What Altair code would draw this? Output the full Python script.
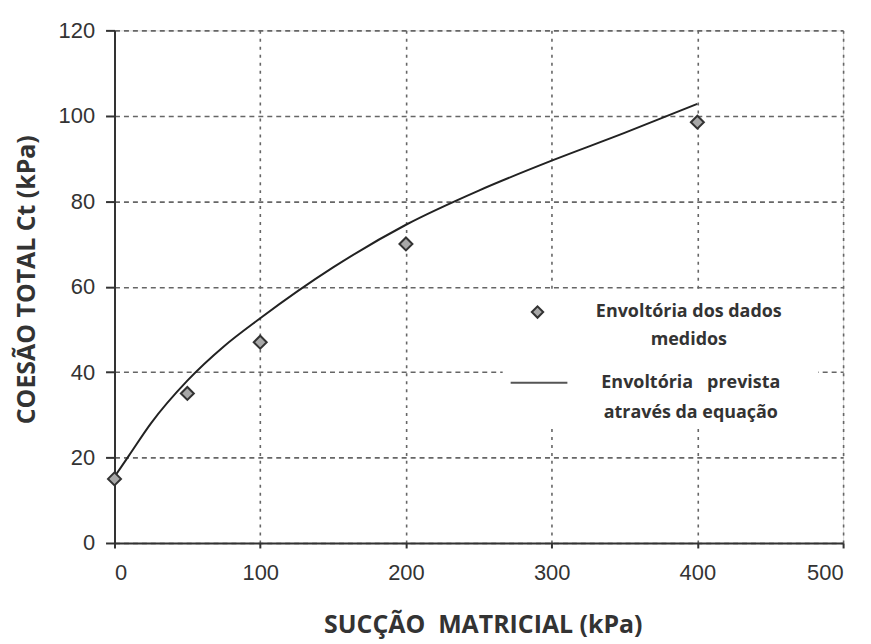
import altair as alt
import pandas as pd

# Measured data
succao_medida = [0, 50, 100, 200, 400]
coesao_medida = [15, 35, 47, 70, 98.5]

# Predicted envelope
succao_prevista = [0, 10, 25, 50, 75, 100, 150, 200, 250, 300, 350, 400]
coesao_prevista = [15.5, 20.5, 28, 38, 46, 52.6, 64.5, 74.5, 82.5, 89.5, 96, 102.8]

legend_labels = ["Envoltória dos dados\nmedidos", "Envoltória\u00a0\u00a0 prevista\natravés da equação"]

df_med = pd.DataFrame({"s": succao_medida, "c": coesao_medida})
df_prev = pd.DataFrame({"s": succao_prevista, "c": coesao_prevista})

W, H = 732, 515

xscale = alt.Scale(domain=[0, 500], nice=False, zero=True)
yscale = alt.Scale(domain=[0, 120], nice=False, zero=True)

xaxis = alt.Axis(title="SUCÇÃO\u00a0\u00a0MATRICIAL (kPa)", values=[0, 100, 200, 300, 400, 500],
                 grid=True, gridDash=[3, 5], gridColor="#666", gridWidth=1.6,
                 domainColor="#333", domainWidth=2, tickColor="#333", tickWidth=2, tickSize=5,
                 labelFont="Liberation Sans", labelFontSize=22, labelColor="#333", labelPadding=15,
                 titleFont="Open Sans", titleFontWeight="bold", titleFontSize=25, titleColor="#333",
                 titlePadding=29, titleX=370)
yaxis = alt.Axis(title="COESÃO TOTAL Ct (kPa)", values=[0, 20, 40, 60, 80, 100, 120],
                 grid=True, gridDash=[5, 4], gridColor="#666", gridWidth=1.6,
                 domainColor="#333", domainWidth=2, tickColor="#333", tickWidth=2, tickSize=9,
                 labelFont="Liberation Sans", labelFontSize=22, labelColor="#333", labelPadding=11,
                 titleFont="Open Sans", titleFontWeight="bold", titleFontSize=25, titleColor="#333",
                 titlePadding=19, titleY=250)

line = alt.Chart(df_prev).mark_line(color="#222", strokeWidth=2, interpolate="monotone").encode(
    x=alt.X("s:Q", scale=xscale, axis=xaxis),
    y=alt.Y("c:Q", scale=yscale, axis=yaxis),
)

pts = alt.Chart(df_med).mark_point(shape="diamond", size=170, filled=True,
                                   fill="#a8a8a8", stroke="#333", strokeWidth=2, opacity=1).encode(
    x=alt.X("s:Q", scale=xscale),
    y=alt.Y("c:Q", scale=yscale),
)

# Custom legend inside the plot
box = alt.Chart(pd.DataFrame({"k": [0]})).mark_rect(fill="white").encode(
    x=alt.value(390), x2=alt.value(707), y=alt.value(261), y2=alt.value(399))
leg_pt = alt.Chart(pd.DataFrame({"k": [0]})).mark_point(
    shape="diamond", size=130, filled=True, fill="#a8a8a8", stroke="#333", strokeWidth=2, opacity=1
).encode(x=alt.value(425), y=alt.value(283))
leg_rule = alt.Chart(pd.DataFrame({"k": [0]})).mark_rule(color="#555", strokeWidth=2).encode(
    x=alt.value(398), x2=alt.value(455), y=alt.value(354))
leg_t1 = alt.Chart(pd.DataFrame({"t": [legend_labels[0]]})).mark_text(
    font="Open Sans", fontWeight="bold", fontSize=18, color="#333", align="center", baseline="middle",
    lineBreak="\n", lineHeight=28
).encode(x=alt.value(577), y=alt.value(283), text="t:N")
leg_t2 = alt.Chart(pd.DataFrame({"t": [legend_labels[1]]})).mark_text(
    font="Open Sans", fontWeight="bold", fontSize=18, color="#333", align="center", baseline="middle",
    lineBreak="\n", lineHeight=30
).encode(x=alt.value(579), y=alt.value(354), text="t:N")

chart = alt.layer(line, pts, box, leg_pt, leg_rule, leg_t1, leg_t2).properties(
    width=W, height=H,
    autosize=alt.AutoSizeParams(type="none"),
    padding={"left": 107, "top": 21, "right": 20, "bottom": 100},
).configure_view(stroke="#333", strokeWidth=2.5).configure(background="white")

chart.save("out.html", embed_options={"renderer": "svg", "actions": False})
